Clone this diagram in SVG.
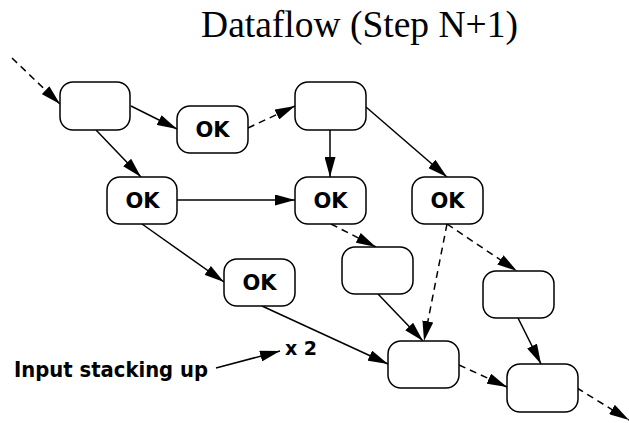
<svg xmlns="http://www.w3.org/2000/svg" width="629" height="423" viewBox="0 0 629 423">
<style>
.box{fill:#fff;stroke:#000;stroke-width:1.5}
.ok{font-family:"DejaVu Sans",sans-serif;font-weight:bold;font-size:21px;text-anchor:middle;fill:#000}
.e{fill:none;stroke:#000;stroke-width:1.5;marker-end:url(#ah)}
.d{stroke-dasharray:7,5}
.lbl{font-family:"DejaVu Sans",sans-serif;font-weight:bold;fill:#000}
</style>
<defs>
<marker id="ah" markerUnits="userSpaceOnUse" markerWidth="20" markerHeight="11" refX="20" refY="5.5" orient="auto">
<path d="M0,0 L20,5.5 L0,11 z" fill="#000"/>
</marker>
</defs>
<rect width="629" height="423" fill="#fff"/>
<text x="359.5" y="37" font-family="Liberation Serif, serif" font-size="37.5" text-anchor="middle">Dataflow (Step N+1)</text>
<g id="connectors">
<path class="e d" d="M12,58 L60,104"/>
<path class="e" d="M131,106 L177,129"/>
<path class="e d" d="M248,128 L295,106"/>
<path class="e" d="M96,130 L141,177"/>
<path class="e" d="M177,200 L295,200"/>
<path class="e" d="M330,130 L330,177"/>
<path class="e" d="M366,107 L447,177"/>
<path class="e" d="M142,224 L224,282"/>
<path class="e" d="M262,306 L388,364"/>
<path class="e d" d="M331,224 L376,247"/>
<path class="e d" d="M447,224 L424,341"/>
<path class="e d" d="M447,224 L517,271"/>
<path class="e" d="M378,294 L423,341"/>
<path class="e" d="M518,318 L541,364"/>
<path class="e d" d="M459,365 L507,387"/>
<path class="e d" d="M577,388 L629,420"/>
<path class="e" d="M216,368 L280,351"/>
</g>
<g id="nA"><rect class="box" x="60" y="82" width="70" height="48" rx="13"/></g>
<g id="nOK1"><rect class="box" x="177" y="106" width="71" height="47" rx="13"/><text class="ok" x="212.5" y="137">OK</text></g>
<g id="nB"><rect class="box" x="295" y="82" width="71" height="48" rx="13"/></g>
<g id="nOK2"><rect class="box" x="107" y="177" width="70" height="47" rx="13"/><text class="ok" x="142.5" y="208">OK</text></g>
<g id="nOK3"><rect class="box" x="295" y="177" width="71" height="47" rx="13"/><text class="ok" x="330.5" y="208">OK</text></g>
<g id="nOK4"><rect class="box" x="412" y="177" width="71" height="47" rx="13"/><text class="ok" x="447.5" y="208">OK</text></g>
<g id="nOK5"><rect class="box" x="224" y="259" width="71" height="47" rx="13"/><text class="ok" x="259.5" y="290">OK</text></g>
<g id="nC"><rect class="box" x="342" y="247" width="71" height="47" rx="13"/></g>
<g id="nD"><rect class="box" x="483" y="271" width="71" height="47" rx="13"/></g>
<g id="nE"><rect class="box" x="388" y="341" width="71" height="47" rx="13"/></g>
<g id="nF"><rect class="box" x="507" y="364" width="71" height="48" rx="13"/></g>
<text class="lbl" x="14" y="377" font-size="21" textLength="194" lengthAdjust="spacingAndGlyphs">Input stacking up</text>
<text class="lbl" x="285" y="355" font-size="19">x 2</text>
</svg>
